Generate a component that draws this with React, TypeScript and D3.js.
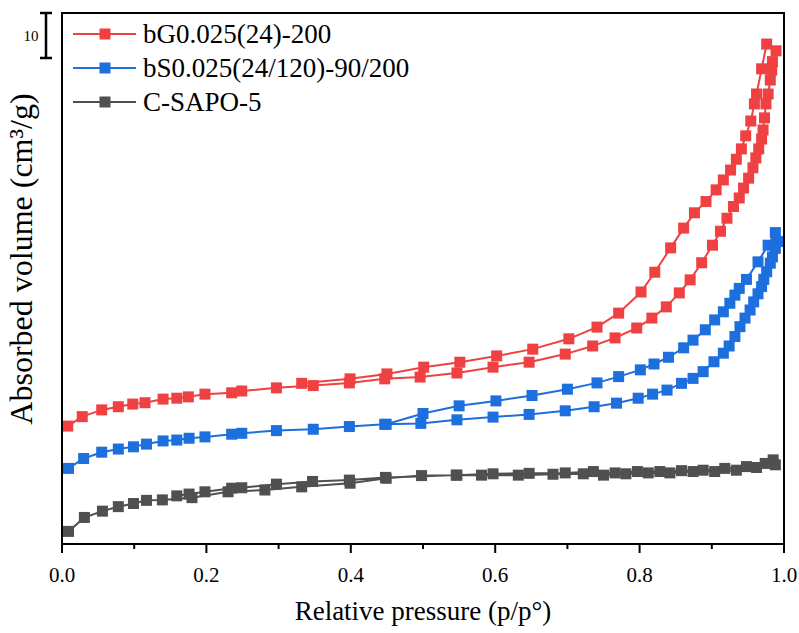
import React from "react";
import * as d3 from "d3";

const seriesNames = ["bG0.025(24)-200", "bS0.025(24/120)-90/200", "C-SAPO-5"];
const seriesColors = ["#F04142", "#1C6FDD", "#505050"];

const redAdsP = [0.008,0.028,0.055,0.078,0.098,0.115,0.140,0.159,0.175,0.198,0.235,0.249,0.297,0.348,0.398,0.447,0.496,0.547,0.597,0.647,0.697,0.735,0.766,0.796,0.817,0.837,0.855,0.870,0.886,0.901,0.912,0.921,0.930,0.938,0.944,0.951,0.957,0.961,0.965,0.969,0.971,0.973,0.975,0.978,0.981,0.983,0.984,0.989];
const redAdsV = [26.2,28.3,29.8,30.5,31.1,31.4,32.2,32.4,32.7,33.3,33.6,34.0,34.7,35.2,35.8,36.7,37.1,38.0,39.3,40.4,42.2,44.0,45.8,48.0,50.2,52.7,55.8,58.7,62.5,66.4,69.5,72.4,75.0,76.9,79.1,81.3,83.6,85.8,87.8,90.0,92.0,94.7,97.8,100.0,103.1,105.3,107.2,109.6];
const redDesP = [0.976,0.969,0.962,0.959,0.954,0.947,0.941,0.934,0.926,0.916,0.906,0.892,0.876,0.861,0.843,0.821,0.802,0.771,0.741,0.702,0.652,0.602,0.551,0.501,0.450,0.399,0.332];
const redDesV = [111.1,105.6,100.0,97.8,94.0,90.7,87.8,85.5,83.1,80.9,78.7,76.1,73.6,70.2,65.8,60.4,56.0,51.3,48.2,45.6,43.3,41.8,40.4,39.3,37.8,36.7,35.7];

const blueAdsP = [0.009,0.030,0.055,0.078,0.099,0.117,0.140,0.159,0.176,0.198,0.235,0.249,0.297,0.348,0.398,0.447,0.497,0.547,0.597,0.647,0.697,0.737,0.768,0.798,0.818,0.838,0.858,0.874,0.888,0.903,0.916,0.924,0.932,0.939,0.946,0.953,0.958,0.964,0.969,0.972,0.976,0.981,0.984,0.988,0.991];
const blueAdsV = [16.8,19.0,20.4,21.1,21.6,22.2,22.9,23.1,23.5,23.8,24.4,24.6,25.2,25.5,26.1,26.6,26.8,27.6,28.2,28.8,29.6,30.5,31.3,32.4,33.3,34.2,35.7,36.8,38.3,40.5,42.4,44.0,46.1,48.3,50.2,52.0,53.8,55.6,57.2,58.8,60.5,62.4,63.8,65.7,67.2];
const blueDesP = [0.988,0.978,0.964,0.948,0.938,0.932,0.925,0.916,0.904,0.891,0.874,0.861,0.840,0.820,0.801,0.771,0.741,0.700,0.651,0.601,0.550,0.500,0.449];
const blueDesV = [69.2,66.4,62.7,58.8,56.8,55.3,53.5,51.6,49.8,47.6,45.3,43.6,41.5,40.0,38.7,37.2,35.8,34.4,33.0,31.8,30.7,29.0,26.6];

const grayAdsP = [0.009,0.031,0.056,0.078,0.099,0.117,0.139,0.180,0.230,0.281,0.332,0.399,0.449,0.498,0.547,0.581,0.632,0.680,0.722,0.750,0.781,0.812,0.842,0.874,0.904,0.934,0.962,0.988];
const grayAdsV = [2.8,5.9,7.3,8.3,9.0,9.7,9.8,10.3,11.6,12.0,12.7,13.5,14.6,15.2,15.3,15.3,15.3,15.5,15.6,15.3,15.6,15.8,15.8,16.1,16.1,16.4,17.0,17.6];
const grayDesP = [0.985,0.974,0.948,0.918,0.888,0.858,0.828,0.797,0.766,0.736,0.697,0.647,0.597,0.546,0.448,0.398,0.347,0.297,0.249,0.235,0.198,0.176,0.159];
const grayDesV = [18.7,17.9,17.2,16.8,16.4,16.3,16.1,16.1,15.8,16.1,15.8,15.7,15.6,15.3,14.8,14.2,13.9,13.3,12.5,12.4,11.6,11.1,10.7];

const xTicks = [0, 0.2, 0.4, 0.6, 0.8, 1.0];
const xMinorTicks = [0.1, 0.3, 0.5, 0.7, 0.9];
const scaleBarValue = 10;

type Pt = [number, number];
const zip = (p: number[], v: number[]): Pt[] =>
  p.slice(0, Math.min(p.length, v.length)).map((d, i) => [d, v[i]] as Pt);

const seriesData: Pt[][] = [
  [...zip(redAdsP, redAdsV), ...zip(redDesP, redDesV)],
  [...zip(blueAdsP, blueAdsV), ...zip(blueDesP, blueDesV)],
  [...zip(grayAdsP, grayAdsV), ...zip(grayDesP, grayDesV)],
];

const W = 799;
const H = 633;
const L = 62, R = 784, T = 13, B = 544;
const FONT = "'Liberation Serif', 'Times New Roman', serif";

export default function App() {
  const x = d3.scaleLinear().domain([0, 1]).range([L, R]);
  const y = d3.scaleLinear().domain([0, 118]).range([B, T]);
  const line = d3.line<Pt>().x((d) => x(d[0])).y((d) => y(d[1]));
  const ms = 11;
  const order = [2, 1, 0];

  return (
    <svg width={W} height={H} style={{ position: "absolute", left: 0, top: 0, background: "#fff" }}>
      <rect x={0} y={0} width={W} height={H} fill="#fff" />
      {order.map((si) => (
        <g key={si}>
          <path d={line(seriesData[si]) || ""} fill="none" stroke={seriesColors[si]} strokeWidth={2} />
          {seriesData[si].map((d, i) => (
            <rect key={i} x={x(d[0]) - ms / 2} y={y(d[1]) - ms / 2} width={ms} height={ms} fill={seriesColors[si]} />
          ))}
        </g>
      ))}
      {/* frame */}
      <rect x={L} y={T} width={R - L} height={B - T} fill="none" stroke="#000" strokeWidth={2} />
      {/* x ticks */}
      {xTicks.map((t) => (
        <g key={"M" + t}>
          <line x1={x(t)} x2={x(t)} y1={B} y2={B + 9} stroke="#000" strokeWidth={2} />
          <text x={x(t)} y={582} fontSize={21} fontFamily={FONT} textAnchor="middle">{t.toFixed(1)}</text>
        </g>
      ))}
      {xMinorTicks.map((t) => (
        <line key={"m" + t} x1={x(t)} x2={x(t)} y1={B} y2={B + 5} stroke="#000" strokeWidth={2} />
      ))}
      <text x={(L + R) / 2} y={620} fontSize={27} fontFamily={FONT} textAnchor="middle">Relative pressure (p/p°)</text>
      <text transform={`translate(32,${259}) rotate(-90)`} fontSize={32} fontFamily={FONT} textAnchor="middle">Absorbed volume (cm³/g)</text>
      {/* scale bar */}
      <g>
        <line x1={46} x2={46} y1={y(118)} y2={y(118 - scaleBarValue)} stroke="#000" strokeWidth={2.5} />
        <line x1={40} x2={52} y1={y(118)} y2={y(118)} stroke="#000" strokeWidth={2.5} />
        <line x1={40} x2={52} y1={y(118 - scaleBarValue)} y2={y(118 - scaleBarValue)} stroke="#000" strokeWidth={2.5} />
        <text x={31} y={41} fontSize={15} fontFamily={FONT} textAnchor="middle">{scaleBarValue}</text>
      </g>
      {/* legend */}
      {seriesNames.map((n, i) => {
        const ly = 34 + i * 34;
        return (
          <g key={n}>
            <line x1={73} x2={136} y1={ly} y2={ly} stroke={seriesColors[i]} strokeWidth={2} />
            <rect x={105 - 5.5} y={ly - 5.5} width={11} height={11} fill={seriesColors[i]} />
            <text x={143} y={ly + 9} fontSize={27} fontFamily={FONT}>{n}</text>
          </g>
        );
      })}
    </svg>
  );
}
